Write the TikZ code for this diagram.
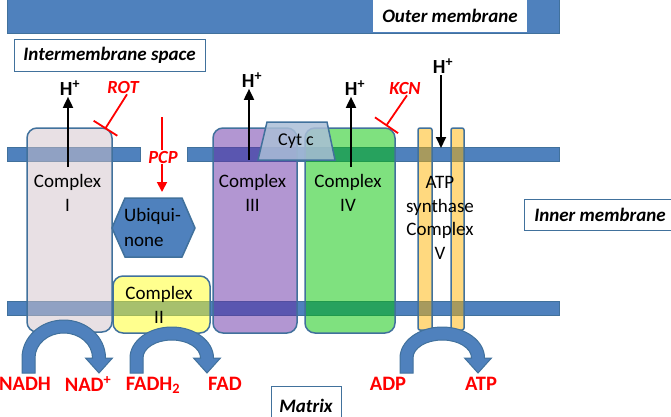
\documentclass[tikz,border=0pt]{standalone}
\usepackage{fontspec}
\setmainfont{Carlito}
\usetikzlibrary{arrows.meta}
\definecolor{memblue}{HTML}{4F81BD}
\definecolor{edgeblue}{HTML}{41719C}
\definecolor{cpxone}{RGB}{209,193,201}
\definecolor{cpxtwo}{RGB}{255,255,30}
\definecolor{cpxthree}{RGB}{101,45,165}
\definecolor{cpxfour}{RGB}{0,195,0}
\definecolor{atpbar}{RGB}{255,180,0}
\definecolor{cytc}{RGB}{170,190,215}
\tikzset{
  membrane/.style={fill=memblue, draw=edgeblue, line width=1pt},
  complexbox/.style={draw=edgeblue, line width=1.5pt, rounded corners=10pt, fill opacity=0.5},
  boxlabel/.style={draw=edgeblue, fill=white, line width=0.8pt, inner sep=0pt,
    font=\fontsize{19}{23}\selectfont\bfseries\itshape},
  cpxtext/.style={align=center, inner sep=0pt, font=\fontsize{19}{23.5}\selectfont},
  hplus/.style={inner sep=1pt, font=\fontsize{20}{24}\selectfont\bfseries},
  pump/.style={line width=1.8pt, -{Triangle[width=10pt,length=11pt]}},
  inhib/.style={red, line width=1.8pt, -{Bar[width=28pt]}},
  drug/.style={red, inner sep=1pt, font=\fontsize{18.5}{21}\selectfont\bfseries\itshape},
  metab/.style={red, inner sep=0pt, font=\fontsize{20.5}{24}\selectfont\bfseries},
  redoxarrow/.style={fill=memblue, draw=edgeblue, line width=1pt}
}
% curved block arrow: centre x, centre y, outer x radius, outer y radius
\newcommand{\bendarrow}[4]{%
  \filldraw[redoxarrow] (#1-#3,373) -- (#1-#3,#2)
    arc[start angle=180, end angle=360, x radius=#3, y radius=#4]
    -- (#1+#3+7,#2) -- (#1+#3-6.5,#2+15) -- (#1+#3-20,#2) -- (#1+#3-13,#2)
    arc[start angle=0, end angle=-180, x radius=#3-13, y radius=#4-13]
    -- (#1-#3+13,373) -- cycle;}
\begin{document}
\begin{tikzpicture}[x=1pt,y=-1pt]
  \useasboundingbox (0,0) rectangle (671,416);
  % membranes
  \draw[membrane] (7,-3) rectangle (559,33);
  \node[fill=white, minimum width=154pt, minimum height=33pt, inner sep=0pt,
    font=\fontsize{19}{23}\selectfont\bfseries\itshape] (outer) at (450,15.5) {Outer membrane};
  \node[boxlabel, minimum width=191pt, minimum height=32pt] (ims) at (109.5,55) {Intermembrane space};
  \draw[membrane] (7,147) rectangle (140,161);
  \draw[membrane] (187,147) rectangle (559,161);
  \draw[membrane] (7,301) rectangle (559,315);

  % complexes
  \draw[complexbox, fill=cpxone] (27,128) rectangle (112,332);
  \draw[complexbox, fill=cpxtwo] (113,276) rectangle (210,333);
  \draw[complexbox, fill=cpxthree] (213,128) rectangle (297,333);
  \draw[complexbox, fill=cpxfour] (305,128) rectangle (395,333);
  \draw[complexbox, fill=atpbar, rounded corners=2pt] (418,128) rectangle (432,330);
  \draw[complexbox, fill=atpbar, rounded corners=2pt] (451,128) rectangle (464,330);
  \draw[draw=edgeblue, line width=1.5pt, fill=cytc, fill opacity=0.85]
    (258,160) -- (267,122) -- (327,122) -- (335,160) -- cycle;
  \draw[fill=memblue, draw=edgeblue, line width=1.5pt]
    (112,228) -- (125,198) -- (182,198) -- (195,228) -- (182,257) -- (125,257) -- cycle;

  \node[cpxtext] (c1) at (67.5,193) {Complex\\I};
  \node[cpxtext] (c2) at (159,305) {Complex\\II};
  \node[cpxtext] (c3) at (252.5,193) {Complex\\III};
  \node[cpxtext] (c4) at (348,193) {Complex\\IV};
  \node[cpxtext] (c5) at (440,218) {ATP\\synthase\\Complex\\V};
  \node[cpxtext, font=\fontsize{18}{21}\selectfont] (cytlbl) at (296,141) {Cyt c};
  \node[cpxtext, align=left, anchor=west, font=\fontsize{19}{25}\selectfont] (ubq) at (124,227.5) {Ubiqui-\\none};

  % protons
  \node[hplus] (h1) at (70,88) {H\textsuperscript{+}};
  \node[hplus] (h3) at (252,80) {H\textsuperscript{+}};
  \node[hplus] (h4) at (355,88) {H\textsuperscript{+}};
  \node[hplus] (h5) at (443,66) {H\textsuperscript{+}};
  \coordinate (p1) at (68,167);
  \coordinate (p3) at (249,160);
  \coordinate (p4) at (351,167);
  \coordinate (p5) at (441,148);
  \draw[pump] (p1) -- (p1 |- h1.south);
  \draw[pump] (p3) -- (p3 |- h3.south);
  \draw[pump] (p4) -- (p4 |- h4.south);
  \draw[pump] (h5.south -| p5) -- (p5);

  % inhibitors
  \node[drug] (rot) at (123,87) {ROT};
  \node[drug] (kcn) at (405,88) {KCN};
  \node[drug] (pcp) at (163,157) {PCP};
  \coordinate (rotend) at (105,129);
  \coordinate (kcnend) at (386,126);
  \coordinate (pcptop) at (162,117);
  \coordinate (ubqtop) at (162,192);
  \draw[inhib] ([xshift=4pt]rot.south) -- (rotend);
  \draw[inhib] ([xshift=2pt]kcn.south) -- (kcnend);
  \draw[red, line width=1.8pt] (pcptop) -- (pcptop |- pcp.north);
  \draw[red, line width=1.8pt, -{Triangle[width=10pt,length=10pt]}] (ubqtop |- pcp.south) -- (ubqtop);

  % redox and phosphorylation
  \bendarrow{63.75}{358}{41.75}{38}
  \bendarrow{171.75}{358}{41.75}{31}
  \bendarrow{442.25}{358}{42.25}{31}
  \node[metab] (nadh) at (25,384) {NADH};
  \node[metab] (nad) at (88,384) {NAD\textsuperscript{+}};
  \node[metab] (fadh) at (153,385) {FADH\textsubscript{2}};
  \node[metab] (fad) at (225,384) {FAD};
  \node[metab] (adp) at (388,384) {ADP};
  \node[metab] (atp) at (481,384) {ATP};

  \node[boxlabel, minimum width=152pt, minimum height=31pt] (inner) at (600,214.5) {Inner membrane};
  \node[boxlabel, minimum width=70pt, minimum height=40pt] (matrix) at (306,406) {Matrix};
\end{tikzpicture}
\end{document}
